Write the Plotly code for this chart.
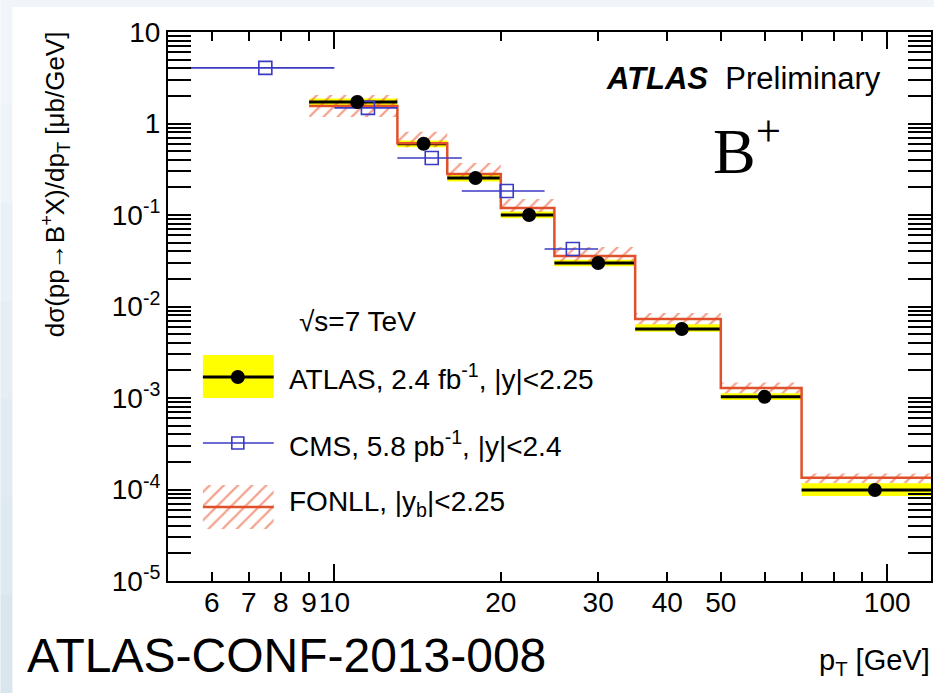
import plotly.graph_objects as go

# ---------------- data ----------------
atlas_edges = [9, 13, 16, 20, 25, 35, 50, 70, 120]
atlas_x = [11, 14.5, 18, 22.5, 30, 42.5, 60, 95]
atlas_y = [1.72, 0.60, 0.253, 0.100, 0.0299, 0.00568, 0.00103, 0.0000989]
atlas_lo = [1.57, 0.55, 0.232, 0.092, 0.0275, 0.0053, 0.00095, 0.000085]
atlas_hi = [1.88, 0.65, 0.275, 0.109, 0.0325, 0.0064, 0.00113, 0.000117]

fonll_c = [1.55, 0.61, 0.28, 0.119, 0.0357, 0.0073, 0.00129, 0.000134]
fonll_lo = [1.18, 0.55, 0.253, 0.108, 0.031, 0.0064, 0.00113, 0.000118]
fonll_hi = [2.05, 0.81, 0.37, 0.15, 0.0447, 0.0085, 0.00148, 0.00015]

cms_edges = [5, 10, 13, 17, 24, 30]
cms_x = [7.5, 11.5, 15, 20.5, 27]
cms_y = [4.05, 1.48, 0.42, 0.183, 0.0425]

x_tickvals = [6, 7, 8, 9, 10, 20, 30, 40, 50, 100]
x_ticktext = ["6", "7", "8", "9", "10", "20", "30", "40", "50", "100"]
x_minor = [60, 70, 80, 90]
y_tickvals = [1e-5, 1e-4, 1e-3, 1e-2, 1e-1, 1, 10]
y_ticktext = ["10<sup>-5</sup>", "10<sup>-4</sup>", "10<sup>-3</sup>", "10<sup>-2</sup>",
              "10<sup>-1</sup>", "1", "10"]

ORANGE = "#e0502a"
HATCH_COLOR = "#e8461e"
BLUE = "#3a3ac4"
YELLOW = "#ffff00"
FONT = "Liberation Sans, Arial, Helvetica, sans-serif"

# plot area in pixels
L, R, T, B = 168, 933, 32, 581
W, H = 936, 693


def fx(x):
    return (x - L) / (R - L)


def fy(y):
    return (B - y) / (B - T)


HATCH = dict(shape="/", fgcolor=HATCH_COLOR, bgcolor="rgba(0,0,0,0)", size=10, solidity=0.22)

fig = go.Figure()

# ATLAS yellow band
bx, by = [], []
for i in range(len(atlas_x)):
    e0, e1 = atlas_edges[i], atlas_edges[i + 1]
    bx += [e0, e1, e1, e0, e0, None]
    by += [atlas_lo[i], atlas_lo[i], atlas_hi[i], atlas_hi[i], atlas_lo[i], None]
fig.add_trace(go.Scatter(x=bx, y=by, fill="toself", fillcolor=YELLOW, mode="lines",
                         line=dict(width=0), hoverinfo="skip", showlegend=False))

# FONLL hatched band
hx, hy = [], []
for i in range(len(fonll_c)):
    e0, e1 = atlas_edges[i], atlas_edges[i + 1]
    hx += [e0, e1, e1, e0, e0, None]
    hy += [fonll_lo[i], fonll_lo[i], fonll_hi[i], fonll_hi[i], fonll_lo[i], None]
fig.add_trace(go.Scatter(x=hx, y=hy, fill="toself", fillcolor="rgba(0,0,0,0)", mode="lines",
                         line=dict(width=0), fillpattern=HATCH,
                         hoverinfo="skip", showlegend=False))

# ATLAS horizontal black lines
lx, ly = [], []
for i in range(len(atlas_x)):
    lx += [atlas_edges[i], atlas_edges[i + 1], None]
    ly += [atlas_y[i], atlas_y[i], None]
fig.add_trace(go.Scatter(x=lx, y=ly, mode="lines", line=dict(color="black", width=3),
                         hoverinfo="skip", showlegend=False))

# FONLL central step line
sx, sy = [], []
for i in range(len(fonll_c)):
    sx += [atlas_edges[i], atlas_edges[i + 1]]
    sy += [fonll_c[i], fonll_c[i]]
fig.add_trace(go.Scatter(x=sx, y=sy, mode="lines", line=dict(color=ORANGE, width=2.5),
                         hoverinfo="skip", showlegend=False))

# CMS points
fig.add_trace(go.Scatter(
    x=cms_x, y=cms_y, mode="markers",
    marker=dict(symbol="square-open", size=13, color=BLUE, line=dict(width=1.6, color=BLUE)),
    error_x=dict(type="data", symmetric=False,
                 array=[cms_edges[i + 1] - cms_x[i] for i in range(len(cms_x))],
                 arrayminus=[cms_x[i] - cms_edges[i] for i in range(len(cms_x))],
                 color=BLUE, thickness=1.6, width=0),
    showlegend=False))

# ATLAS markers
fig.add_trace(go.Scatter(x=atlas_x, y=atlas_y, mode="markers",
                         marker=dict(symbol="circle", size=14, color="black"),
                         showlegend=False))

# overlay axis for long major x ticks (10, 100)
fig.add_trace(go.Scatter(x=[10], y=[1], xaxis="x2", yaxis="y", mode="markers",
                         marker=dict(opacity=0), hoverinfo="skip", showlegend=False))

# ---------------- legend symbols (pixel-coordinate overlay axes) ----------------
fig.add_trace(go.Scatter(x=[203, 274, 274, 203, 203], y=[355, 355, 398, 398, 355],
                         xaxis="x3", yaxis="y3", fill="toself", fillcolor=YELLOW, mode="lines",
                         line=dict(width=0), hoverinfo="skip", showlegend=False))
fig.add_trace(go.Scatter(x=[203, 274], y=[377, 377], xaxis="x3", yaxis="y3", mode="lines",
                         line=dict(color="black", width=3), hoverinfo="skip", showlegend=False))
fig.add_trace(go.Scatter(x=[238], y=[377], xaxis="x3", yaxis="y3", mode="markers",
                         marker=dict(symbol="circle", size=14, color="black"),
                         hoverinfo="skip", showlegend=False))
fig.add_trace(go.Scatter(x=[203, 274], y=[443, 443], xaxis="x3", yaxis="y3", mode="lines",
                         line=dict(color=BLUE, width=1.6), hoverinfo="skip", showlegend=False))
fig.add_trace(go.Scatter(x=[238], y=[443], xaxis="x3", yaxis="y3", mode="markers",
                         marker=dict(symbol="square-open", size=12, color=BLUE,
                                     line=dict(width=1.6, color=BLUE)),
                         hoverinfo="skip", showlegend=False))
fig.add_trace(go.Scatter(x=[203, 274, 274, 203, 203], y=[485, 485, 529, 529, 485],
                         xaxis="x3", yaxis="y3", fill="toself", fillcolor="rgba(0,0,0,0)",
                         mode="lines", line=dict(width=0), fillpattern=HATCH,
                         hoverinfo="skip", showlegend=False))
fig.add_trace(go.Scatter(x=[203, 274], y=[507, 507], xaxis="x3", yaxis="y3", mode="lines",
                         line=dict(color=ORANGE, width=2.5), hoverinfo="skip", showlegend=False))

axis_common = dict(showline=True, linecolor="black", linewidth=2, ticks="inside",
                   tickcolor="black", tickwidth=1.5, showgrid=False, zeroline=False,
                   mirror="allticks")

fig.update_layout(
    width=W, height=H,
    margin=dict(l=L, r=W - R, t=T, b=H - B, pad=0),
    paper_bgcolor="white", plot_bgcolor="white",
    font=dict(family=FONT, color="black"),
    showlegend=False,
    xaxis=dict(type="log", range=[0.699, 2.0792], tickmode="array",
               tickvals=x_tickvals, ticktext=x_ticktext, ticklen=9, tickangle=0,
               ticklabelstandoff=-5,
               tickfont=dict(size=28, family=FONT, color="black"),
               minor=dict(tickmode="array", tickvals=x_minor, ticks="inside", ticklen=9,
                          tickwidth=1.5, tickcolor="black"),
               **axis_common),
    xaxis2=dict(type="log", range=[0.699, 2.0792], overlaying="x", tickmode="array",
                tickvals=[10, 100], ticks="inside", ticklen=17, tickwidth=1.5,
                tickcolor="black", showticklabels=False, showline=False, showgrid=False,
                zeroline=False, mirror="ticks", side="bottom"),
    yaxis=dict(type="log", range=[-5, 1], tickmode="array",
               tickvals=y_tickvals, ticktext=y_ticktext, ticklen=23,
               tickfont=dict(size=28, family=FONT, color="black"),
               minor=dict(tickmode="array",
                          tickvals=[m * 10 ** e for e in range(-5, 1) for m in range(2, 10)],
                          ticks="inside", ticklen=12, tickwidth=1.5, tickcolor="black"),
               **axis_common),
    xaxis3=dict(overlaying="x", range=[L, R], visible=False, fixedrange=True),
    yaxis3=dict(overlaying="y", range=[B, T], visible=False, fixedrange=True, anchor="x3"),
)

# slide-like background border
shapes = [
    dict(type="rect", xref="paper", yref="paper", x0=fx(0), x1=fx(W), y0=fy(7), y1=fy(0),
         fillcolor="#f1f5f9", line=dict(width=0), layer="below"),
]
strip = ["#f1f5f9", "#eef3f8", "#eaf1f6", "#e6eef4", "#e2ebf2", "#dee9f0", "#dae6ee"]
for k, c in enumerate(strip):
    y0 = 7 + k * (H - 7) / len(strip)
    y1 = 7 + (k + 1) * (H - 7) / len(strip)
    shapes.append(dict(type="rect", xref="paper", yref="paper", x0=fx(0), x1=fx(12),
                       y0=fy(y1), y1=fy(y0), fillcolor=c, line=dict(width=0), layer="below"))
fig.update_layout(shapes=shapes)

ann = []
ann.append(dict(text="dσ(pp→B<sup>+</sup>X)/dp<sub>T</sub> [μb/GeV]", textangle=-90,
                x=fx(55), y=fy(184), xref="paper", yref="paper", showarrow=False,
                xanchor="center", yanchor="middle", font=dict(size=26, family=FONT)))
ann.append(dict(text="<b><i>ATLAS</i></b>  Preliminary", x=fx(885), y=fy(79),
                xref="paper", yref="paper", showarrow=False, xanchor="right", yanchor="middle",
                font=dict(size=31, family=FONT)))
ann.append(dict(text="B<sup>+</sup>", x=fx(712), y=fy(146), xref="paper", yref="paper",
                showarrow=False, xanchor="left", yanchor="middle",
                font=dict(size=64, family="Liberation Serif, Times New Roman, serif")))
ann.append(dict(text="√s=7 TeV", x=fx(297), y=fy(321), xref="paper", yref="paper",
                showarrow=False, xanchor="left", yanchor="middle", font=dict(size=28, family=FONT)))
ann.append(dict(text="ATLAS, 2.4 fb<sup>-1</sup>, |y|&lt;2.25", x=fx(287), y=fy(377),
                xref="paper", yref="paper", showarrow=False, xanchor="left", yanchor="middle",
                font=dict(size=28, family=FONT)))
ann.append(dict(text="CMS, 5.8 pb<sup>-1</sup>, |y|&lt;2.4", x=fx(287), y=fy(444),
                xref="paper", yref="paper", showarrow=False, xanchor="left", yanchor="middle",
                font=dict(size=28, family=FONT)))
ann.append(dict(text="FONLL, |y<sub>b</sub>|&lt;2.25", x=fx(287), y=fy(503),
                xref="paper", yref="paper", showarrow=False, xanchor="left", yanchor="middle",
                font=dict(size=28, family=FONT)))
ann.append(dict(text="p<sub>T</sub> [GeV]", x=fx(934), y=fy(662), xref="paper", yref="paper",
                showarrow=False, xanchor="right", yanchor="middle", font=dict(size=29, family=FONT)))
ann.append(dict(text="ATLAS-CONF-2013-008", x=fx(25), y=fy(655), xref="paper", yref="paper",
                showarrow=False, xanchor="left", yanchor="middle", font=dict(size=48, family=FONT)))
fig.update_layout(annotations=ann)

fig.write_html("out.html")
